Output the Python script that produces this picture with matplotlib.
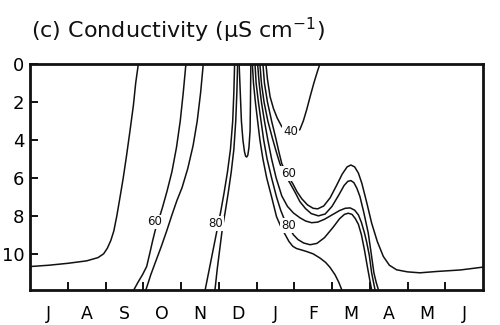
import matplotlib
matplotlib.use("Agg")
import matplotlib.pyplot as plt

# ---- axis labels ----
months = ["J", "A", "S", "O", "N", "D", "J", "F", "M", "A", "M", "J"]
depth_ticks = [0, 2, 4, 6, 8, 10]

# ---- contour lines: (month position, depth m) ----
a_m = [2.87, 2.80, 2.74, 2.65, 2.56, 2.47, 2.38, 2.30, 2.22, 2.14, 2.05, 1.95, 1.80, 1.50, 1.00, 0.50, 0.0]
a_d = [0.0, 1.0, 2.16, 3.5, 4.79, 6.0, 7.07, 8.0, 8.8, 9.3, 9.7, 10.0, 10.2, 10.37, 10.5, 10.6, 10.67]

c60a_m = [4.13, 4.06, 3.98, 3.88, 3.76, 3.63, 3.51, 3.41, 3.32, 3.25, 3.17, 3.09, 2.98, 2.86, 2.75]
c60a_d = [0.0, 1.5, 3.0, 4.4, 5.67, 6.7, 7.55, 8.2, 8.74, 9.3, 10.0, 10.67, 11.1, 11.5, 11.9]

c60b_m = [4.59, 4.52, 4.43, 4.32, 4.18, 4.03, 3.89, 3.76, 3.62, 3.48, 3.33, 3.20, 3.07]
c60b_d = [0.0, 1.5, 3.0, 4.3, 5.5, 6.5, 7.2, 7.95, 8.8, 9.6, 10.4, 11.1, 11.9]

c80a_m = [5.42, 5.40, 5.37, 5.31, 5.23, 5.14, 5.05, 4.97, 4.88, 4.79, 4.71, 4.64]
c80a_d = [0.0, 1.5, 3.0, 4.5, 5.7, 6.8, 7.8, 8.6, 9.5, 10.4, 11.2, 11.9]

c80b_m = [5.50, 5.48, 5.45, 5.40, 5.33, 5.25, 5.17, 5.10, 5.03, 4.96, 4.90]
c80b_d = [0.0, 1.5, 3.0, 4.5, 5.7, 6.8, 7.8, 8.6, 9.7, 10.8, 11.9]

u_m = [5.54, 5.57, 5.60, 5.64, 5.68, 5.71, 5.74, 5.77, 5.80, 5.83, 5.84, 5.85]
u_d = [0.0, 1.5, 3.0, 4.0, 4.6, 4.85, 4.9, 4.8, 4.4, 3.5, 2.0, 0.0]

c40_m = [6.25, 6.29, 6.36, 6.45, 6.55, 6.67, 6.85, 7.00, 7.15, 7.24, 7.33, 7.42, 7.52, 7.62, 7.68]
c40_d = [0.0, 0.8, 1.72, 2.35, 2.85, 3.3, 3.6, 3.62, 3.45, 3.0, 2.4, 1.72, 1.0, 0.35, 0.0]

w1_m = [6.17, 6.21, 6.29, 6.40, 6.51, 6.59, 6.67, 6.80, 6.96, 7.08, 7.20, 7.35, 7.50, 7.62, 7.78,
        7.95, 8.12, 8.27, 8.40, 8.50, 8.60, 8.70, 8.79, 8.92, 9.05, 9.20, 9.36, 9.52, 9.71, 10.0,
        10.33, 10.77, 11.4, 12.0]
w1_d = [0.0, 1.0, 2.0, 3.0, 3.9, 4.6, 5.25, 5.8, 6.3, 6.75, 7.1, 7.42, 7.6, 7.63, 7.48,
        7.05, 6.4, 5.8, 5.42, 5.32, 5.42, 5.75, 6.28, 7.3, 8.38, 9.35, 10.14, 10.6, 10.84, 10.95,
        11.0, 10.93, 10.85, 10.7]

w2_m = [6.09, 6.13, 6.20, 6.30, 6.42, 6.52, 6.62, 6.74, 6.88, 7.02, 7.15, 7.30, 7.45, 7.64, 7.82,
        8.00, 8.18, 8.32, 8.42, 8.50, 8.58, 8.66, 8.74, 8.84, 8.96, 9.04, 9.11, 9.17, 9.23]
w2_d = [0.0, 1.0, 2.0, 3.0, 3.9, 4.6, 5.25, 5.8, 6.25, 6.75, 7.25, 7.62, 7.88, 8.0, 7.9,
        7.5, 6.9, 6.4, 6.18, 6.14, 6.25, 6.55, 6.98, 7.8, 8.9, 10.0, 11.0, 11.5, 11.9]

w3_m = [6.03, 6.07, 6.13, 6.21, 6.30, 6.40, 6.52, 6.67, 6.82, 6.98, 7.15, 7.30, 7.46, 7.62, 7.80,
        8.00, 8.20, 8.35, 8.48, 8.60, 8.70, 8.78, 8.86, 8.92, 8.99, 9.05, 9.10, 9.14]
w3_d = [0.0, 1.0, 2.0, 3.0, 4.0, 5.0, 6.0, 6.95, 7.5, 7.85, 8.1, 8.27, 8.36, 8.33, 8.18,
        7.95, 7.72, 7.6, 7.58, 7.7, 7.95, 8.35, 8.9, 9.4, 10.1, 11.0, 11.5, 11.9]

w4_m = [5.96, 5.99, 6.05, 6.12, 6.19, 6.28, 6.40, 6.53, 6.64, 6.72, 6.84, 6.98, 7.10, 7.25, 7.42,
        7.60, 7.80, 8.03, 8.20, 8.33, 8.43, 8.53, 8.62, 8.70, 8.78, 8.86, 8.93, 9.00, 9.05]
w4_d = [0.0, 1.0, 2.0, 3.0, 4.0, 5.0, 6.0, 7.0, 7.7, 8.1, 8.55, 9.0, 9.25, 9.43, 9.52,
        9.45, 9.15, 8.6, 8.15, 7.92, 7.86, 7.92, 8.15, 8.45, 9.0, 9.8, 10.6, 11.37, 11.9]

w5_m = [5.89, 5.92, 5.97, 6.03, 6.09, 6.17, 6.27, 6.40, 6.53, 6.63, 6.75, 6.86, 6.96, 7.06, 7.20,
        7.33, 7.50, 7.68, 7.83, 7.95, 8.08, 8.18, 8.26]
w5_d = [0.0, 1.0, 2.0, 3.0, 4.0, 5.0, 6.0, 7.0, 8.04, 8.5, 8.95, 9.35, 9.6, 9.72, 9.8,
        9.88, 10.0, 10.22, 10.45, 10.72, 11.1, 11.5, 11.9]

labels_txt = ["60", "80", "40", "60", "80"]
labels_m = [3.30, 4.93, 6.90, 6.84, 6.84]
labels_d = [8.32, 8.38, 3.56, 5.78, 8.50]

lines = [(a_m, a_d), (c60a_m, c60a_d), (c60b_m, c60b_d), (c80a_m, c80a_d), (c80b_m, c80b_d),
         (u_m, u_d), (c40_m, c40_d), (w1_m, w1_d), (w2_m, w2_d), (w3_m, w3_d),
         (w4_m, w4_d), (w5_m, w5_d)]

fig = plt.figure(figsize=(5.0, 3.25), dpi=100)
ax = fig.add_axes([0.060, 0.108, 0.906, 0.695])

for xm, yd in lines:
    ax.plot(xm, yd, color="#111111", lw=1.1, solid_joinstyle="round", solid_capstyle="round",
            clip_on=True, zorder=2)

for t, xm, yd in zip(labels_txt, labels_m, labels_d):
    ax.text(xm, yd, t, ha="center", va="center", fontsize=8.5, color="#111111", zorder=5,
            bbox=dict(boxstyle="square,pad=0.08", fc="white", ec="none"))

ax.set_xlim(0, 12)
ax.set_ylim(11.9, 0)

ax.set_xticks(range(1, 12))
ax.set_xticklabels([])
ax.set_xticks([i + 0.5 for i in range(12)], minor=True)
ax.set_xticklabels(months, minor=True)
ax.tick_params(axis="x", which="major", direction="in", length=6, width=1.4, color="#111111")
ax.tick_params(axis="x", which="minor", length=0, pad=11, labelsize=12.5)

ax.set_yticks(depth_ticks)
ax.set_yticklabels([str(v) for v in depth_ticks])
ax.tick_params(axis="y", which="major", direction="in", length=6, width=1.4, color="#111111",
               pad=4, labelsize=13)

for s in ax.spines.values():
    s.set_linewidth(2.0)
    s.set_color("#111111")

fig.text(0.062, 1 - 30 / 325, "(c) Conductivity (μS cm$^{-1}$)", fontsize=16,
         ha="left", va="center", color="#111111")

fig.savefig("out.png", dpi=100)
